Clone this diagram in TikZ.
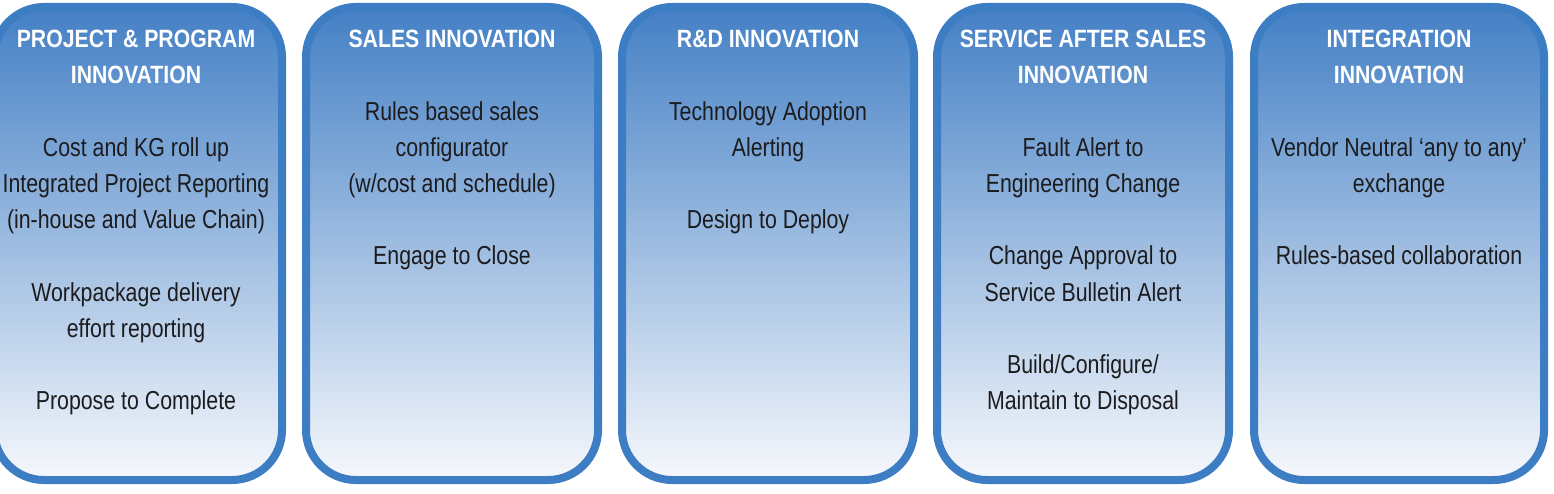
\documentclass[tikz,border=0pt]{standalone}
\usepackage{fontspec}
\setmainfont{Liberation Sans}[FakeStretch=0.82]
\newfontfamily\ttlfont{Liberation Sans}[FakeStretch=0.85]
\definecolor{panelborder}{RGB}{61,125,195}
\definecolor{paneltop}{RGB}{68,128,197}
\definecolor{panelbottom}{RGB}{246,248,252}
\definecolor{bodytext}{RGB}{28,28,30}
\tikzset{
  panel/.style={draw=panelborder, line width=8pt, rounded corners=50pt,
    top color=paneltop, bottom color=panelbottom, inner sep=0pt,
    minimum height=473pt},
  ttl/.style={anchor=base, text=white, inner sep=0pt,
    font=\ttlfont\bfseries\fontsize{25}{36}\selectfont},
  bodyline/.style={anchor=base, text=bodytext, inner sep=0pt,
    font=\fontsize{26}{36}\selectfont}
}
\newcommand\paneltext[3]{%
  \foreach \n/\t in {#3} {\node[bodyline] (#1l\n) at (#2, 49+36*\n) {\t};}%
}
\newcommand\paneltitle[3]{%
  \foreach \n/\t in {#3} {\node[ttl] (#1h\n) at (#2, 48+36*\n) {\t};}%
}
\begin{document}
\begin{tikzpicture}[x=1pt,y=-1pt]
\useasboundingbox (0,0) rectangle (1554,494);
\node[panel, minimum width=288pt] (p1) at (138,243.5) {};
\node[panel, minimum width=292pt] (p2) at (452,243.5) {};
\node[panel, minimum width=292pt] (p3) at (768,243.5) {};
\node[panel, minimum width=292pt] (p4) at (1083,243.5) {};
\node[panel, minimum width=290pt] (p5) at (1399,243.5) {};

\paneltitle{a}{136}{0/{PROJECT \& PROGRAM}, 1/INNOVATION}
\paneltext{a}{136}{3/{Cost and KG roll up}, 4/{Integrated Project Reporting},
  5/{(in-house and Value Chain)}, 7/{Workpackage delivery},
  8/{effort reporting}, 10/{Propose to Complete}}

\paneltitle{b}{452}{0/{SALES INNOVATION}}
\paneltext{b}{452}{2/{Rules based sales}, 3/{configurator},
  4/{(w/cost and schedule)}, 6/{Engage to Close}}

\paneltitle{c}{768}{0/{R\&D INNOVATION}}
\paneltext{c}{768}{2/{Technology Adoption}, 3/{Alerting}, 5/{Design to Deploy}}

\paneltitle{d}{1083}{0/{SERVICE AFTER SALES}, 1/INNOVATION}
\paneltext{d}{1083}{3/{Fault Alert to}, 4/{Engineering Change},
  6/{Change Approval to}, 7/{Service Bulletin Alert},
  9/{Build/Configure/}, 10/{Maintain to Disposal}}

\paneltitle{e}{1399}{0/INTEGRATION, 1/INNOVATION}
\paneltext{e}{1399}{3/{Vendor Neutral ‘any to any’}, 4/{exchange},
  6/{Rules-based collaboration}}
\end{tikzpicture}
\end{document}
